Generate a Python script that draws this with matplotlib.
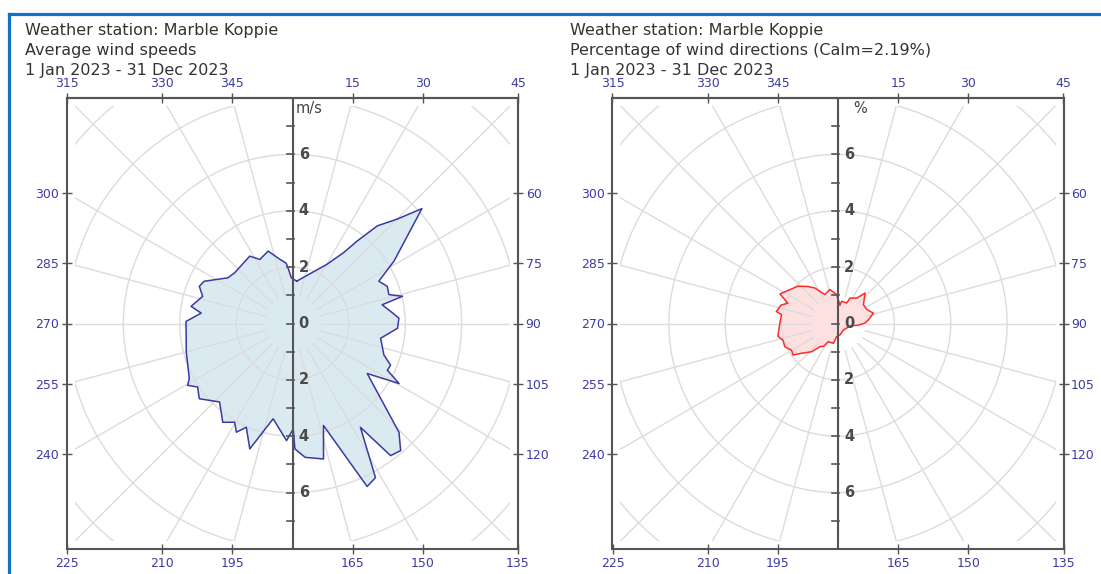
import numpy as np
import matplotlib.pyplot as plt
from matplotlib.patches import Circle, Rectangle
from matplotlib.lines import Line2D

station = "Weather station: Marble Koppie"
period = "1 Jan 2023 - 31 Dec 2023"

# average wind speed (m/s) by direction (degrees)
speed_dirs = [5.7, 30.2, 35.8, 38.1, 41.0, 45.1, 48.4, 58.4, 63.9, 68.6, 73.3, 76.1, 78.2,
              83.0, 87.1, 92.6, 99.5, 109.0, 113.0, 116.2, 119.4, 123.8, 135.6, 139.6,
              143.4, 146.8, 151.7, 155.4, 163.1, 167.1, 174.6, 178.9, 179.6, 182.9, 191.5,
              198.8, 204.0, 207.3, 210.4, 215.2, 222.9, 231.1, 236.2, 239.5, 241.9, 255.1,
              263.0, 271.1, 276.5, 279.6, 286.8, 291.8, 295.6, 305.2, 311.2, 327.6, 333.0,
              341.4, 348.9, 354.0, 356.0, 358.5]
speed_vals = [1.51, 2.43, 3.10, 3.72, 4.59, 5.25, 6.14, 4.23, 3.41, 3.61, 3.57, 4.02, 3.25,
              3.51, 3.78, 3.73, 3.17, 3.43, 3.78, 3.75, 4.34, 3.19, 5.40, 5.92,
              5.84, 4.40, 6.21, 6.36, 3.78, 4.93, 4.77, 4.45, 3.74, 4.16, 3.45,
              4.70, 4.03, 4.34, 4.06, 4.29, 3.80, 4.25, 4.05, 4.32, 4.15, 3.90,
              3.80, 3.78, 3.26, 3.65, 3.33, 3.56, 3.47, 2.81, 2.73, 2.83, 2.55,
              2.71, 2.32, 2.15, 1.90, 1.62]

# percentage of wind directions
pct_dirs = [6, 9.5, 23, 25.4, 36.5, 41.7, 53.5, 64.5, 73.7, 83, 89, 95, 100, 140, 170,
            186, 193, 208, 212, 218, 223, 231, 235, 240, 246.5, 253, 258, 269, 279, 281,
            288, 292, 297, 305, 313, 321, 327, 330.6, 335.6, 346.6, 357]
pct_vals = [0.67, 0.80, 0.79, 1.00, 1.12, 1.45, 1.12, 1.14, 1.31, 1.09, 0.96, 0.72, 0.45, 0.30, 0.41,
            0.47, 0.72, 0.73, 0.95, 1.04, 1.37, 1.68, 1.95, 1.90, 2.06, 2.04, 2.18, 2.07, 2.03, 2.23,
            2.12, 1.92, 2.31, 2.09, 1.94, 1.69, 1.50, 1.31, 1.13, 1.24, 1.03]

top_labels = ['315', '330', '345', '15', '30', '45']
bottom_labels = ['225', '210', '195', '165', '150', '135']
left_labels = ['300', '285', '270', '255', '240']
right_labels = ['60', '75', '90', '105', '120']

LIM = 8.0
grid_col = '#dcdcdc'
axis_col = '#555555'
lab_col = '#3c3ca4'


def draw_rose(ax, dirs, vals, face, edge, unit, unit_dx):
    ax.set_xlim(-LIM, LIM)
    ax.set_ylim(-LIM, LIM)
    ax.set_aspect('equal')

    # grid, clipped a little inside the frame
    clip = Rectangle((-7.72, -7.72), 15.44, 15.44, transform=ax.transData)
    for r in (2, 4, 6, 8, 10):
        c = Circle((0, 0), r, fill=False, ec=grid_col, lw=1, zorder=2)
        ax.add_patch(c)
        c.set_clip_path(clip)
    for a in range(0, 360, 15):
        t = np.radians(a)
        ln, = ax.plot([np.sin(t), 11 * np.sin(t)], [np.cos(t), 11 * np.cos(t)],
                      color=grid_col, lw=1, zorder=2)
        ln.set_clip_path(clip)

    # the rose itself
    t = np.radians(np.array(dirs))
    v = np.array(vals)
    x = np.append(v * np.sin(t), v[0] * np.sin(t[0]))
    y = np.append(v * np.cos(t), v[0] * np.cos(t[0]))
    ax.fill(x, y, facecolor=face, edgecolor='none', zorder=1)
    ax.plot(x, y, color=edge, lw=1.1, zorder=3)

    # central scale
    ax.axvline(0, color=axis_col, lw=1.5, zorder=4)
    for k in range(-7, 8):
        ax.plot([-0.2, 0.05], [k, k], color=axis_col, lw=1.2, zorder=4)
    for k in range(-6, 7, 2):
        ax.text(0.22, k, str(abs(k)), ha='left', va='center', fontsize=10.5,
                fontweight='bold', color='#4a4a4a', zorder=5)
    ax.text(unit_dx, 7.9, unit, ha='left', va='top', fontsize=10.5, color='#444444', zorder=5)

    # edge direction labels
    pos_tb = [LIM * np.tan(np.radians(a)) for a in (-45, -30, -15, 15, 30, 45)]
    pos_lr = [LIM * np.tan(np.radians(a)) for a in (30, 15, 0, -15, -30)]
    ax.set_xticks(pos_tb, bottom_labels)
    ax.set_yticks(pos_lr, left_labels)
    top = ax.secondary_xaxis('top')
    top.set_xticks(pos_tb, top_labels)
    right = ax.secondary_yaxis('right')
    right.set_yticks(pos_lr, right_labels)
    for a in (ax, top, right):
        a.tick_params(direction='inout', length=7, width=1, color=axis_col,
                      labelcolor=lab_col, labelsize=9, pad=2)
        for s in a.spines.values():
            s.set_color(axis_col)
            s.set_linewidth(1.5)


fig = plt.figure(figsize=(11.01, 5.74), dpi=100)
W, H = 1101, 574
ax1 = fig.add_axes([66 / W, 25 / H, 453 / W, 451 / H])
ax2 = fig.add_axes([611 / W, 25 / H, 454 / W, 451 / H])

draw_rose(ax1, speed_dirs, speed_vals, '#daeaf0', '#3a3aa0', 'm/s', 0.12)
draw_rose(ax2, pct_dirs, pct_vals, '#fde1e1', '#ff2a2a', '%', 0.55)

titles = [
    (25, [station, "Average wind speeds", period]),
    (570, [station, "Percentage of wind directions (Calm=2.19%)", period]),
]
for x0, lines in titles:
    for i, s in enumerate(lines):
        fig.text(x0 / W, 1 - (30 + 20 * i) / H, s, ha='left', va='center',
                 fontsize=11.5, color='#333333')

# blue frame around the picture
fc = '#1270c6'
fig.add_artist(Line2D([8.5 / W, 8.5 / W], [0, 1 - 13.5 / H], color=fc, lw=2.3,
                      transform=fig.transFigure))
fig.add_artist(Line2D([8.5 / W, 1.0], [1 - 13.5 / H, 1 - 13.5 / H], color=fc, lw=2.3,
                      transform=fig.transFigure))

fig.savefig('out.png', dpi=100)
